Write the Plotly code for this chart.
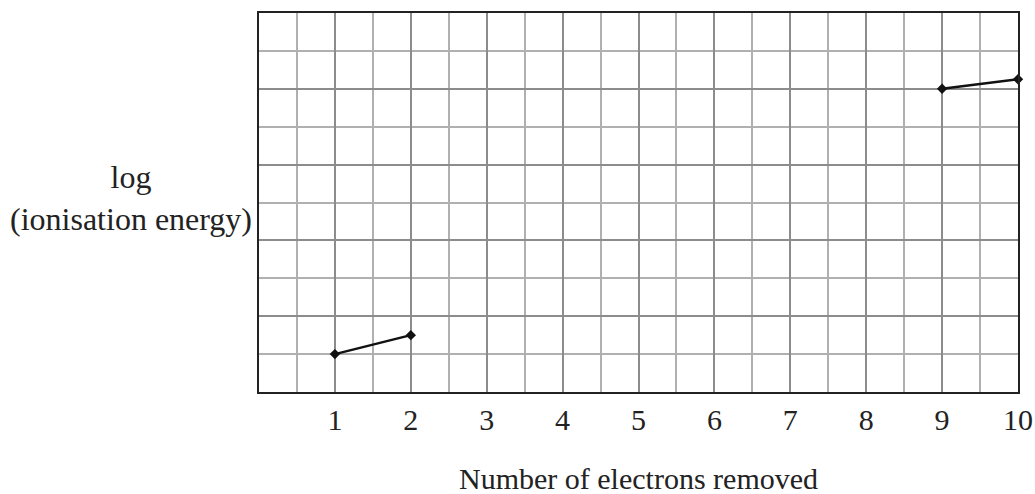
import plotly.graph_objects as go

# Data
electrons = [1, 2, None, 9, 10]
log_ie = [1, 1.5, None, 8, 8.25]
x_tick_vals = [1, 2, 3, 4, 5, 6, 7, 8, 9, 10]
x_tick_text = ["1", "2", "3", "4", "5", "6", "7", "8", "9", "10"]
y_major = [2, 4, 6, 8]

W, H = 1035, 494
L, R, T, B = 259, 17, 13, 102
PW, PH = W - L - R, H - T - B

fig = go.Figure()
fig.add_trace(go.Scatter(
    x=electrons, y=log_ie, mode="lines+markers",
    line=dict(color="#111111", width=2.5),
    marker=dict(symbol="diamond", size=8, color="#111111"),
    connectgaps=False, showlegend=False, cliponaxis=False,
))

font_family = "Liberation Serif, Times New Roman, serif"

fig.update_layout(
    width=W, height=H,
    margin=dict(l=L, r=R, t=T, b=B),
    plot_bgcolor="white", paper_bgcolor="white",
    font=dict(family=font_family, color="#222222"),
    xaxis=dict(
        range=[0, 10], tickvals=x_tick_vals, ticktext=x_tick_text,
        showgrid=True, gridcolor="#8c8c8c", gridwidth=2,
        minor=dict(dtick=0.5, tick0=0, showgrid=True, gridcolor="#b0b0b0", gridwidth=1.5),
        showline=True, linecolor="#222222", linewidth=2, mirror=True,
        ticks="", ticklen=0, tickfont=dict(size=30, family=font_family, color="#222222"),
        zeroline=False, ticklabelstandoff=0, automargin=False,
    ),
    yaxis=dict(
        range=[0, 10], tickvals=y_major, showticklabels=False,
        showgrid=True, gridcolor="#8c8c8c", gridwidth=2,
        minor=dict(dtick=1, tick0=0, showgrid=True, gridcolor="#b0b0b0", gridwidth=1.5),
        showline=True, linecolor="#222222", linewidth=2, mirror=True,
        ticks="", zeroline=False, automargin=False,
    ),
    annotations=[
        dict(
            text="log<br>(ionisation energy)", xref="paper", yref="paper",
            x=-(L - 131) / PW, y=(H - B - 198) / PH, xanchor="center", yanchor="middle",
            showarrow=False, align="center",
            font=dict(size=32, family=font_family, color="#222222"),
        ),
        dict(
            text="Number of electrons removed", xref="paper", yref="paper",
            x=(638 - L) / PW, y=-(478 - (H - B)) / PH, xanchor="center", yanchor="middle",
            showarrow=False,
            font=dict(size=30, family=font_family, color="#222222"),
        ),
    ],
)

fig.write_html(
    "out.html",
    config={"displayModeBar": False},
    post_script="document.body.style.margin='0';document.body.style.overflow='hidden';",
)
